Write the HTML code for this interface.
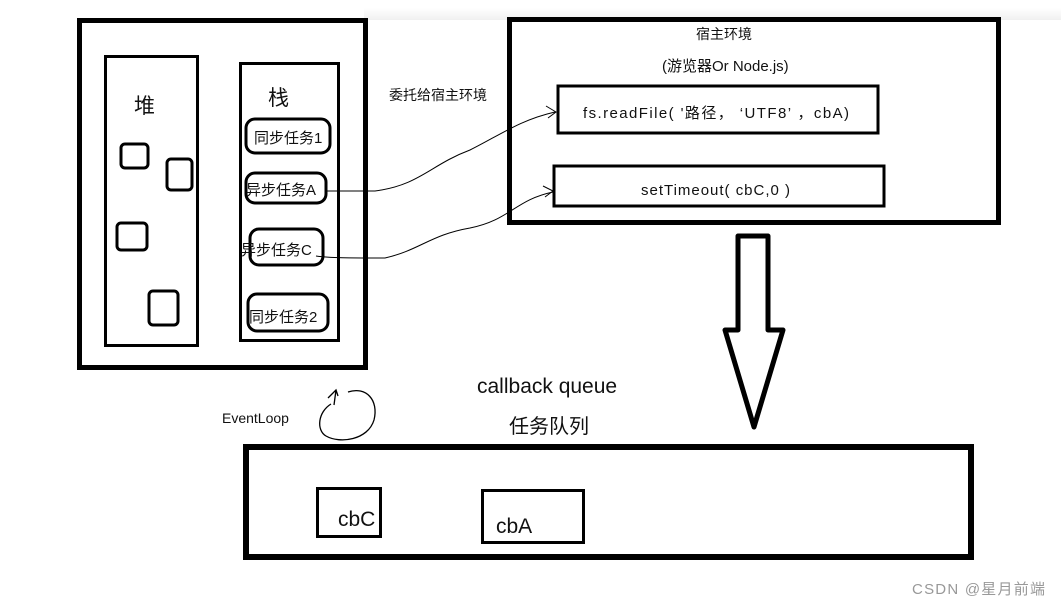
<!DOCTYPE html>
<html><head><meta charset="utf-8"><style>
html,body{margin:0;padding:0;background:#fff;}
svg{display:block;}
text{font-family:"Liberation Sans","Noto Sans CJK SC",sans-serif;fill:#111;}
</style></head><body>
<svg width="1061" height="607" viewBox="0 0 1061 607" xmlns="http://www.w3.org/2000/svg">
<defs><linearGradient id="g" x1="0" y1="0" x2="0" y2="1"><stop offset="0" stop-color="#fff"/><stop offset="1" stop-color="#f0f0f0"/></linearGradient></defs>
<rect x="364" y="8" width="697" height="12" fill="url(#g)"/>
<g fill="none" stroke="#000">
<rect x="79.5" y="20.5" width="286" height="347" stroke-width="5"/>
<rect x="105.5" y="56.5" width="92" height="289" stroke-width="3"/>
<rect x="240.5" y="63.5" width="98" height="277" stroke-width="3"/>
<rect x="246" y="119" width="84" height="34" rx="9" stroke-width="3"/>
<rect x="246" y="173" width="80" height="30" rx="9" stroke-width="3"/>
<rect x="250" y="229" width="73" height="36" rx="9" stroke-width="3"/>
<rect x="248" y="294" width="80" height="37" rx="9" stroke-width="3"/>
<rect x="121" y="144" width="27" height="24" rx="4" stroke-width="3"/>
<rect x="167" y="159" width="25" height="31" rx="4" stroke-width="3"/>
<rect x="117" y="223" width="30" height="27" rx="4" stroke-width="3"/>
<rect x="149" y="291" width="29" height="34" rx="4" stroke-width="3"/>
<rect x="509.5" y="19.5" width="489" height="203" stroke-width="5"/>
<rect x="558" y="86" width="320" height="47" stroke-width="3"/>
<rect x="554" y="166" width="330" height="40" stroke-width="3"/>
<path d="M738 236 H768 V330 H783 L754 427 L725 330 H738 Z" stroke-width="5" stroke-linejoin="round"/>
<rect x="246" y="447" width="725" height="110" stroke-width="6"/>
<rect x="317.5" y="488.5" width="63" height="48" stroke-width="3"/>
<rect x="482.5" y="490.5" width="101" height="52" stroke-width="3"/>
<path d="M326 191 H375 C420 185 430 165 470 150 C500 135 520 120 555 112" stroke-width="1"/>
<path d="M546 106 L556 112 L548 118" stroke-width="1"/>
<path d="M316 256 C330 258 350 258 385 258 C420 250 430 235 470 228 C510 220 515 200 553 192" stroke-width="1"/>
<path d="M543 186 L553 191 L545 197" stroke-width="1"/>
<path d="M331 404 C318 412 316 430 326 436 C340 444 368 440 374 420 C379 400 366 386 348 392" stroke-width="1.3"/>
<path d="M328 398 L336 390 L338 396 M336 390 L334 405" stroke-width="1.3"/>
</g>
<text x="134" y="113" font-size="21">堆</text>
<text x="268" y="105" font-size="21">栈</text>
<text x="254" y="143" font-size="15">同步任务1</text>
<text x="246" y="195" font-size="15">异步任务A</text>
<text x="241" y="255" font-size="15">异步任务C</text>
<text x="249" y="322" font-size="15">同步任务2</text>
<text x="389" y="100" font-size="14">委托给宿主环境</text>
<text x="696" y="39" font-size="14">宿主环境</text>
<text x="662" y="71" font-size="15">(游览器Or Node.js)</text>
<text x="583" y="118" font-size="15" textLength="266" lengthAdjust="spacing">fs.readFile( '路径，  ‘UTF8’ ，cbA)</text>
<text x="641" y="195" font-size="15" textLength="149" lengthAdjust="spacing">setTimeout( cbC,0 )</text>
<text x="477" y="393" font-size="21">callback queue</text>
<text x="509" y="433" font-size="20">任务队列</text>
<text x="222" y="423" font-size="14">EventLoop</text>
<text x="338" y="526" font-size="21">cbC</text>
<text x="496" y="533" font-size="21">cbA</text>
<text x="912" y="594" font-size="15" textLength="133" style="fill:#999">CSDN @星月前端</text>
</svg>
</body></html>
